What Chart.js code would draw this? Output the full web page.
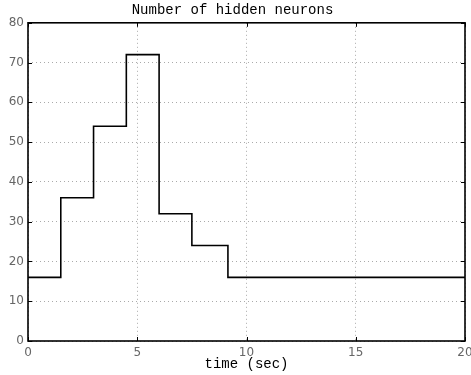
<!DOCTYPE html>
<html>
<head>
<meta charset="utf-8">
<script src="https://cdn.jsdelivr.net/npm/chart.js@4.4.1/dist/chart.umd.min.js"></script>
<style>
  html, body { margin: 0; padding: 0; background: #fff; overflow: hidden; }
  #wrap { width: 471px; height: 375px; }
</style>
</head>
<body>
<div id="wrap"><canvas id="neuronChart" width="471" height="375"></canvas></div>
<script>
"use strict";

// step times (sec) and neuron count that starts at each time
const stepTimes = [0, 1.5, 3, 4.5, 6, 7.5, 9.15, 20];
const neuronCounts = [16, 36, 54, 72, 32, 24, 16, 16];
const xTicks = [0, 5, 10, 15, 20];
const yTicks = [0, 10, 20, 30, 40, 50, 60, 70, 80];

const points = stepTimes.map((t, i) => ({ x: t, y: neuronCounts[i] }));

const monoFont = "'Liberation Mono', 'DejaVu Sans Mono', monospace";
const tickFont = { family: "'DejaVu Sans', sans-serif", size: 12 };

// frame round the plot area plus small ticks pointing inward
const framePlugin = {
  id: "frame",
  afterDraw(chart) {
    const { ctx, chartArea: a, scales } = chart;
    ctx.save();
    ctx.strokeStyle = "#000";
    ctx.lineWidth = 1;
    ctx.beginPath();
    xTicks.forEach(v => {
      const px = Math.round(scales.x.getPixelForValue(v)) + 0.5;
      ctx.moveTo(px, a.bottom); ctx.lineTo(px, a.bottom - 4);
      ctx.moveTo(px, a.top); ctx.lineTo(px, a.top + 4);
    });
    yTicks.forEach(v => {
      const py = Math.round(scales.y.getPixelForValue(v)) + 0.5;
      ctx.moveTo(a.left, py); ctx.lineTo(a.left + 4, py);
      ctx.moveTo(a.right, py); ctx.lineTo(a.right - 4, py);
    });
    ctx.stroke();
    ctx.lineWidth = 1.6;
    ctx.strokeRect(a.left, a.top, a.right - a.left, a.bottom - a.top);
    ctx.restore();
  }
};

const ctx = document.getElementById("neuronChart").getContext("2d");
new Chart(ctx, {
  type: "scatter",
  data: {
    datasets: [{
      data: points,
      showLine: true,
      stepped: "before",
      borderColor: "#000",
      borderWidth: 1.6,
      pointRadius: 0,
      fill: false
    }]
  },
  options: {
    responsive: false,
    animation: false,
    layout: { padding: { left: 0, right: 6, top: 0, bottom: 0 } },
    plugins: {
      legend: { display: false },
      tooltip: { enabled: false },
      title: {
        display: true,
        text: "Number of hidden neurons",
        color: "#000",
        font: { family: monoFont, size: 14, weight: "normal" },
        padding: { top: 2, bottom: 4 }
      }
    },
    scales: {
      x: {
        type: "linear",
        min: 0,
        max: 20,
        afterBuildTicks: s => { s.ticks = xTicks.map(v => ({ value: v })); },
        afterFit: s => { s.height = 34; s.paddingLeft = 0; s.paddingRight = 0; },
        ticks: { color: "#666", font: tickFont, padding: 5, maxRotation: 0, autoSkip: false },
        grid: { color: "#aaa", lineWidth: 1, drawTicks: false, tickLength: 0 },
        border: { display: false, dash: [1, 3] },
        title: {
          display: true,
          text: "time (sec)",
          color: "#000",
          font: { family: monoFont, size: 14 },
          padding: { top: 0, bottom: 2 }
        }
      },
      y: {
        type: "linear",
        min: 0,
        max: 80,
        afterBuildTicks: s => { s.ticks = yTicks.map(v => ({ value: v })); },
        afterFit: s => { s.width = 28; },
        ticks: { color: "#666", font: tickFont, padding: 4, autoSkip: false },
        grid: { color: "#aaa", lineWidth: 1, drawTicks: false, tickLength: 0 },
        border: { display: false, dash: [1, 3] }
      }
    }
  },
  plugins: [framePlugin]
});
</script>
</body>
</html>
